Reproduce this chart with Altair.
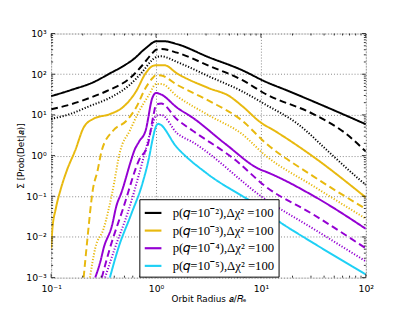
import altair as alt
import pandas as pd
import math

# ---------------- axis ticks / labels ----------------
radius_ticks = [0.1, 1, 10, 100]
radius_tick_labels = ["10⁻¹", "10⁰", "10¹", "10²"]
prob_ticks = [1e-3, 1e-2, 1e-1, 1, 10, 100, 1000]
prob_tick_labels = ["10⁻³", "10⁻²", "10⁻¹", "10⁰", "10¹", "10²", "10³"]

# ---------------- series ----------------
series_labels = [
    "p(𝑞=10⁻²),Δχ² =100",
    "p(𝑞=10⁻³),Δχ² =100",
    "p(𝑞=10⁻⁴),Δχ² =100",
    "p(𝑞=10⁻⁵),Δχ² =100",
]
series_colors = ["#000000", "#E8B90F", "#9400D3", "#1ED0F5"]
line_styles = ["solid", "dashed", "dotted"]

# values, as log10(orbit radius) and log10(sum prob)
q2_solid_logr = [-1.0, -0.8, -0.6, -0.44, -0.3, -0.2, -0.13, -0.07, -0.03, 0.0, 0.08, 0.2, 0.5, 0.82, 1.04, 1.25, 1.69, 2.0]
q2_solid_logp = [1.46, 1.62, 1.80, 2.02, 2.22, 2.40, 2.57, 2.70, 2.78, 2.81, 2.81, 2.74, 2.42, 2.10, 1.82, 1.60, 1.12, 0.77]
q2_dashed_logr = [-1.0, -0.81, -0.63, -0.44, -0.25, -0.13, -0.04, 0.0, 0.05, 0.2, 0.51, 0.82, 1.04, 1.5, 1.81, 2.0]
q2_dashed_logp = [1.14, 1.26, 1.42, 1.62, 1.90, 2.22, 2.50, 2.60, 2.62, 2.53, 2.20, 1.86, 1.52, 1.02, 0.54, 0.10]
q2_dotted_logr = [-1.0, -0.81, -0.63, -0.44, -0.25, -0.13, -0.04, 0.0, 0.05, 0.2, 0.51, 0.82, 1.04, 1.35, 1.66, 1.94, 2.0]
q2_dotted_logp = [0.90, 1.03, 1.22, 1.42, 1.74, 2.06, 2.34, 2.42, 2.44, 2.30, 1.94, 1.58, 1.26, 0.78, 0.06, -0.59, -0.72]

q3_solid_logr = [-1.0, -0.988, -0.956, -0.909, -0.848, -0.77, -0.69, -0.6, -0.44, -0.32, -0.19, -0.10, -0.035, 0.0, 0.08, 0.2, 0.5, 0.7, 0.82, 1.0, 1.13, 1.5, 2.0]
q3_solid_logp = [-2.28, -1.80, -1.31, -0.83, -0.35, 0.13, 0.69, 0.90, 1.02, 1.18, 1.58, 2.02, 2.20, 2.22, 2.22, 2.02, 1.66, 1.46, 1.22, 0.81, 0.61, -0.03, -1.03]
q3_dashed_logr = [-0.69, -0.657, -0.6, -0.56, -0.517, -0.41, -0.28, -0.19, -0.10, -0.035, 0.0, 0.05, 0.2, 0.51, 0.82, 1.04, 1.5, 2.0]
q3_dashed_logp = [-3.0, -2.12, -0.8, -0.4, 0.13, 0.61, 0.86, 1.18, 1.66, 1.90, 1.98, 1.97, 1.74, 1.34, 0.86, 0.32, -0.51, -1.31]
q3_dotted_logr = [-0.63, -0.58, -0.5, -0.42, -0.34, -0.25, -0.16, -0.065, 0.0, 0.05, 0.2, 0.51, 0.82, 1.04, 1.5, 2.0]
q3_dotted_logp = [-3.0, -2.28, -1.8, -0.95, 0.13, 0.61, 1.10, 1.50, 1.76, 1.76, 1.46, 0.98, 0.53, 0.01, -0.75, -1.55]

q4_solid_logr = [-0.58, -0.53, -0.50, -0.42, -0.377, -0.33, -0.237, -0.206, -0.16, -0.10, -0.035, 0.0, 0.05, 0.2, 0.35, 0.66, 1.0, 1.04, 1.5, 2.0]
q4_solid_logp = [-3.0, -2.6, -2.28, -1.72, -1.23, -0.91, -0.11, 0.13, 0.35, 0.61, 1.42, 1.54, 1.50, 1.18, 0.93, 0.29, -0.35, -0.39, -0.99, -1.80]
q4_dashed_logr = [-0.517, -0.44, -0.315, -0.16, -0.08, -0.02, 0.0, 0.05, 0.196, 0.35, 0.757, 1.04, 1.5, 2.0]
q4_dashed_logp = [-3.0, -2.28, -1.31, -0.1, 0.25, 1.05, 1.25, 1.28, 0.90, 0.61, -0.11, -0.75, -1.45, -2.28]
q4_dotted_logr = [-0.486, -0.393, -0.268, -0.10, -0.04, 0.0, 0.05, 0.2, 0.35, 1.04, 1.5, 2.0]
q4_dotted_logp = [-3.0, -2.28, -1.39, 0.13, 0.7, 0.98, 1.0, 0.55, 0.33, -1.07, -1.8, -2.6]

q5_solid_logr = [-0.44, -0.36, -0.235, -0.128, -0.065, -0.035, 0.0, 0.02, 0.196, 0.48, 0.82, 0.9, 1.16, 1.5, 2.0]
q5_solid_logp = [-3.0, -2.28, -1.43, -0.67, -0.03, 0.37, 0.72, 0.78, 0.21, -0.43, -0.99, -1.11, -1.6, -2.15, -2.92]

curves = [
    (0, "solid", q2_solid_logr, q2_solid_logp),
    (0, "dashed", q2_dashed_logr, q2_dashed_logp),
    (0, "dotted", q2_dotted_logr, q2_dotted_logp),
    (1, "solid", q3_solid_logr, q3_solid_logp),
    (1, "dashed", q3_dashed_logr, q3_dashed_logp),
    (1, "dotted", q3_dotted_logr, q3_dotted_logp),
    (2, "solid", q4_solid_logr, q4_solid_logp),
    (2, "dashed", q4_dashed_logr, q4_dashed_logp),
    (2, "dotted", q4_dotted_logr, q4_dotted_logp),
    (3, "solid", q5_solid_logr, q5_solid_logp),
]

rows = []
for cid, (si, style, lr, lp) in enumerate(curves):
    for i, (a, b) in enumerate(zip(lr, lp)):
        rows.append({"curve": cid, "i": i, "series": series_labels[si], "style": style,
                     "radius": 10 ** a, "prob": 10 ** b})
df = pd.DataFrame(rows)

W, H = 321, 249

# ---------------- scales ----------------
xscale = alt.Scale(type="log", domain=[0.1, 100], nice=False)
yscale = alt.Scale(type="log", domain=[1e-3, 1e3], nice=False)


def label_expr(ticks, labels):
    expr = "''"
    for t, l in reversed(list(zip(ticks, labels))):
        expr = f"abs(log(datum.value)/LN10 - ({math.log10(t):.3f})) < 0.01 ? '{l}' : ({expr})"
    return expr


x_minor = [m * 10 ** e for e in (-1, 0, 1) for m in range(2, 10)]
y_minor = [m * 10 ** e for e in (-3, -2, -1, 0, 1, 2) for m in range(2, 10)]

FONT = "DejaVu Sans"

main = alt.Chart(df).mark_line(clip=True, interpolate="monotone").encode(
    x=alt.X("radius:Q", scale=xscale,
            axis=alt.Axis(values=radius_ticks, labelExpr=label_expr(radius_ticks, radius_tick_labels),
                          grid=True, gridDash=[1, 2], gridColor="#000000", gridOpacity=0.6, gridWidth=0.8,
                          ticks=False, domain=False, labelPadding=6, labelFont=FONT, labelFontSize=9.5,
                          labelColor="#000", labelFlush=False, labelOverlap=False,
                          title="Orbit Radius 𝑎/𝑅ₑ", titleFont=FONT, titleFontSize=9,
                          titleFontWeight="normal", titlePadding=2, titleColor="#000")),
    y=alt.Y("prob:Q", scale=yscale,
            axis=alt.Axis(values=prob_ticks, labelExpr=label_expr(prob_ticks, prob_tick_labels),
                          grid=True, gridDash=[1, 2], gridColor="#000000", gridOpacity=0.6, gridWidth=0.8,
                          ticks=False, domain=False, labelPadding=5, labelFont=FONT, labelFontSize=9.5,
                          labelColor="#000", labelFlush=False, labelOverlap=False,
                          title="Σ [Prob(Det|𝑎)]", titleFont=FONT, titleFontSize=9,
                          titleFontWeight="normal", titlePadding=0, titleColor="#000")),
    color=alt.Color("series:N", scale=alt.Scale(domain=series_labels, range=series_colors),
                    legend=alt.Legend(title=None, orient="none", legendX=90, legendY=169,
                                      fillColor="white", strokeColor="black", padding=4,
                                      symbolType="stroke", symbolSize=289, symbolStrokeWidth=2.2,
                                      labelFont="Liberation Serif", labelFontSize=13, labelOffset=10,
                                      labelColor="#000", rowPadding=1, labelLimit=200)),
    strokeDash=alt.StrokeDash("style:N", scale=alt.Scale(domain=line_styles,
                                                          range=[[1, 0], [7, 4], [1.2, 1.8]]), legend=None),
    strokeWidth=alt.StrokeWidth("style:N", scale=alt.Scale(domain=line_styles, range=[2, 2, 1.2]), legend=None),
    detail="curve:N",
    order=alt.Order("i:Q"),
)

x_major_df = pd.DataFrame({"radius": radius_ticks})
x_minor_df = pd.DataFrame({"radius": x_minor})
y_major_df = pd.DataFrame({"prob": prob_ticks})
y_minor_df = pd.DataFrame({"prob": y_minor})


def xticks(d, size):
    base = alt.Chart(d).mark_rule(color="#000", strokeWidth=0.8)
    xe = alt.X("radius:Q", scale=xscale, axis=None)
    return [base.encode(x=xe, y=alt.value(H), y2=alt.value(H - size)),
            base.encode(x=xe, y=alt.value(0), y2=alt.value(size))]


def yticks(d, size):
    base = alt.Chart(d).mark_rule(color="#000", strokeWidth=0.8)
    ye = alt.Y("prob:Q", scale=yscale, axis=None)
    return [base.encode(y=ye, x=alt.value(0), x2=alt.value(size)),
            base.encode(y=ye, x=alt.value(W), x2=alt.value(W - size))]


layers = [main] + xticks(x_major_df, 4) + xticks(x_minor_df, 2) + yticks(y_major_df, 4) + yticks(y_minor_df, 2)

chart = alt.layer(*layers).resolve_axis(x="independent", y="independent").properties(
    width=W, height=H,
    autosize=alt.AutoSizeParams(type="none"),
    padding={"left": 44, "top": 23, "right": 42, "bottom": 32},
).configure_view(stroke="#000", strokeWidth=1).configure(background="white")

chart.save("out.html", embed_options={"renderer": "svg", "actions": False})
